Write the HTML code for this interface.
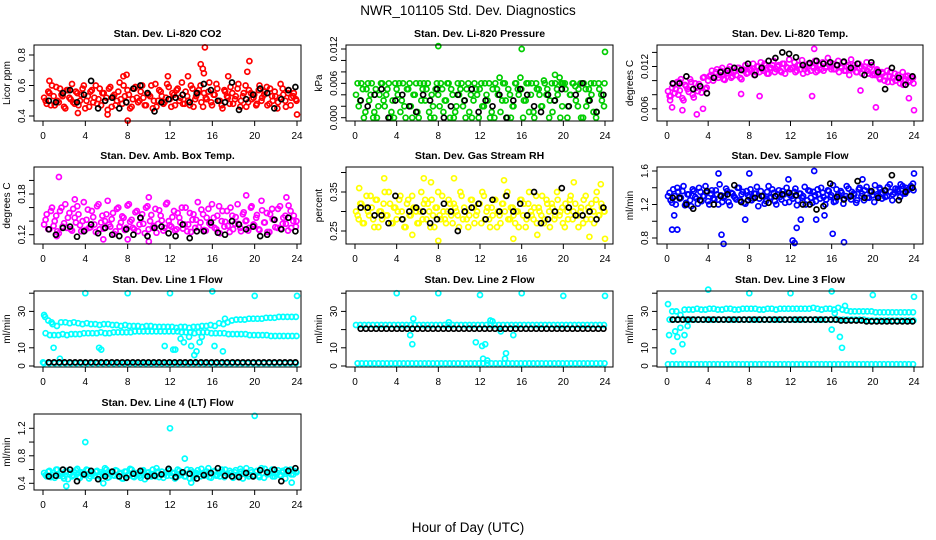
<!DOCTYPE html>
<html><head><meta charset="utf-8"><style>
html,body{margin:0;padding:0;background:#fff;width:936px;height:540px;overflow:hidden}
svg{display:block;font-family:"Liberation Sans",Arial,sans-serif}
</style></head><body>
<svg id="chart" width="936" height="540" viewBox="0 0 936 540" xmlns="http://www.w3.org/2000/svg">
<rect x="0" y="0" width="936" height="540" fill="#fff"/>
<text x="468" y="15" text-anchor="middle" font-size="13.5">NWR_101105  Std. Dev. Diagnostics</text>
<text x="468" y="532" text-anchor="middle" font-size="13.5">Hour of Day (UTC)</text>
</svg>
<script>
// ---------- data ----------
const hourTicks=[0,4,8,12,16,20,24];
const co2Red=[.52,.48,.55,.60,.47,.50,.58,.53,.45,.57,.51,.49,.56,.47,.54,.60,.50,.46,.57,.52,.48,.58,.55,.50,.44,.59,.53,.47,.56,.51,.60,.49,.54,.46,.58,.52,.50,.60,.47,.55,.53,.45,.61,.50,.56,.48,.52,.59,.46,.54,.57,.50,.62,.48,.53,.47,.58,.51,.55,.60,.46,.52,.56,.49,.54,.61,.50,.47,.57,.53,.48,.55,.51,.58,.46,.53,.60,.49,.55,.52,.47,.57,.50,.54,.59,.48,.53,.56,.45,.52,.58,.50,.55,.47,.53,.51];
const co2Red2=[.50,.56,.47,.53,.59,.49,.54,.46,.57,.52,.61,.48,.55,.50,.58,.45,.53,.56,.49,.60,.51,.47,.55,.52,.58,.46,.54,.50,.62,.48,.53,.57,.45,.51,.59,.49,.56,.52,.47,.54,.60,.50,.46,.57,.53,.49,.61,.51,.55,.47,.58,.52,.48,.56,.50,.60,.46,.53,.57,.49,.55,.51,.62,.47,.54,.58,.50,.45,.56,.52,.59,.48,.53,.61,.50,.55,.46,.57,.51,.54,.48,.60,.52,.56,.47,.58,.50,.53,.49,.61,.54,.46,.57,.52,.55,.50];
const co2Black=[.50,.49,.55,.57,.49,.54,.63,.45,.50,.52,.45,.49,.58,.60,.55,.43,.49,.51,.52,.54,.49,.55,.61,.57,.50,.49,.62,.44,.51,.54,.58,.55,.45,.51,.57,.59];
const co2OutHour=[15.3,14.9,15.1,15.2,19.5,19.3,11.8,7.6,7.9,8,0.6,3.3,6.1,24,13.7,17.5];
const co2OutVal=[.85,.74,.71,.68,.76,.69,.66,.66,.67,.37,.63,.42,.41,.41,.66,.66];
const co2Ticks=[0.4,0.5,0.6,0.7,0.8];
const co2Labels=["0.4","","0.6","","0.8"];

const presGreen=[.004,.002,.006,0,.005,.003,.006,.001,0,.004,.006,.002,.005,0,.003,.006,.004,.001,.006,0,.005,.002,.004,.006,0,.003,.006,.005,.001,.004,0,.006,.002,.005,.003,.006,0,.004,.001,.006,.005,.002,0,.006,.004,.003,.005,0,.006,.002,.004,.006,.001,0,.005,.007,.003,.006,0,.004,.002,.006,.005,.007,0,.003,.006,.004,.001,.006,.005,.002,.0065,.004,0,.006,.003,.005,.007,.002,.006,0,.004,.006,.0055,.002,.006,0,.005,.003,.006,.001,0,.006,.004,.002];
const presGreen2=[.006,.003,.005,.001,.006,.004,0,.005,.002,.006,.003,.004,.006,.001,0,.005,.006,.003,.002,.005,.006,0,.004,.001,.006,.005,.003,.006,0,.002,.005,.004,.006,.001,.003,.006,.005,0,.002,.004,.006,.003,.005,.001,0,.006,.004,.005,.002,.006,.003,0,.005,.006,.004,.001,.006,.003,.005,0,.002,.006,.004,.005,.003,.006,.001,.006,0,.005,.004,.002,.006,.005,.003,.001,.006,.004,0,.006,.005,.002,.004,.006,.003,.005,0,.006,.002,.005,.004,.006,.001,.005,.003,.006];
const presBlack=[.003,.002,.004,.005,0,.003,.004,.002,.001,.004,.003,.005,0,.002,.004,.003,.005,.001,.003,.002,.004,0,.003,.005,.004,.002,.001,.004,.003,.005,.002,.004,.006,.003,.001,.004];
const presOutHour=[8,16,24,19.2,19.8];
const presOutVal=[.0125,.012,.0115,.0075,.006];
const presTicks=[0,.002,.004,.006,.008,.010,.012];
const presLabels=["0.000","","","0.006","","","0.012"];

const tempMag=[.0085,.0078,.0095,.0088,.008,.0102,.0072,.0092,.0084,.0098,.0076,.009,.0095,.0083,.0105,.009,.0106,.0114,.0104,.0116,.0108,.0118,.0101,.0111,.012,.0106,.0114,.0118,.0104,.0116,.0122,.0111,.0116,.0124,.0112,.012,.0126,.0114,.0122,.011,.0118,.0128,.0116,.0122,.0112,.0124,.0119,.013,.0118,.0126,.0114,.0122,.0129,.0116,.0112,.0124,.012,.0128,.0114,.0122,.0126,.0118,.0132,.012,.0124,.0116,.0128,.012,.0126,.0114,.0122,.013,.0118,.0112,.0124,.012,.0116,.0126,.011,.0122,.011,.0116,.0104,.0112,.010,.0114,.0106,.0098,.011,.0104,.0096,.0112,.0102,.0107,.010,.0104];
const tempMag2=[.0078,.009,.0082,.0098,.0086,.0075,.0094,.0088,.0102,.008,.0096,.0085,.0092,.0104,.0088,.01,.0108,.01,.0112,.0104,.0114,.0102,.011,.0116,.0104,.0112,.0108,.0118,.0102,.0114,.011,.0116,.0114,.0108,.012,.0112,.0116,.0124,.011,.0118,.0122,.0112,.012,.0114,.0124,.011,.0118,.0116,.0118,.0112,.0122,.0116,.011,.012,.0124,.0114,.0118,.0112,.0122,.0116,.0114,.012,.0124,.0116,.0116,.0122,.0112,.0118,.0114,.012,.0108,.0116,.0122,.0112,.0118,.011,.012,.0114,.0118,.0108,.0108,.0114,.0102,.011,.0106,.0098,.0112,.0104,.01,.0108,.0102,.0094,.0106,.0098,.0104,.0096];
const tempBlack=[.0096,.0096,.0106,.0088,.0092,.0082,.0104,.0112,.0114,.0118,.0115,.0124,.0108,.0118,.0128,.0132,.0140,.0138,.0133,.0122,.0125,.0128,.0124,.0126,.0122,.0127,.0118,.0124,.0108,.0126,.0112,.0088,.0118,.0104,.0094,.0106];
const tempOutHour=[0.5,1.5,2.9,3.5,7.2,9,14.1,14.3,20.3,24,23.5,18.8,1.2,0.3];
const tempOutVal=[.0062,.0058,.0052,.006,.0081,.0078,.0078,.0145,.0062,.0058,.0075,.0086,.0098,.0072];
const tempTicks=[.006,.008,.010,.012,.014];
const tempLabels=["0.006","","","0.012",""];

const ambMag=[.135,.15,.128,.16,.14,.125,.155,.132,.165,.145,.128,.158,.138,.15,.125,.168,.142,.13,.155,.135,.162,.128,.148,.14,.17,.132,.152,.125,.16,.138,.145,.13,.165,.142,.128,.155,.135,.15,.122,.162,.14,.13,.158,.136,.148,.126,.165,.14,.132,.155,.128,.145,.16,.135,.125,.152,.142,.13,.168,.138,.15,.126,.158,.134,.145,.128,.162,.14,.132,.155,.124,.148,.136,.165,.13,.15,.14,.126,.16,.135,.145,.128,.17,.138,.152,.124,.158,.142,.13,.162,.136,.148,.126,.155,.14,.132];
const ambMag2=[.142,.128,.155,.133,.148,.122,.16,.137,.13,.152,.126,.145,.162,.134,.14,.127,.157,.131,.146,.124,.165,.138,.129,.15,.135,.143,.121,.158,.132,.147,.127,.163,.139,.13,.153,.125,.144,.136,.16,.128,.149,.133,.123,.156,.141,.13,.167,.134,.146,.126,.152,.138,.129,.16,.135,.124,.15,.142,.131,.157,.127,.145,.137,.165,.13,.148,.122,.155,.139,.133,.16,.128,.146,.136,.125,.153,.141,.13,.162,.134,.149,.127,.156,.138,.124,.15,.143,.131,.158,.129,.145,.136,.163,.13,.148,.14];
const ambBlack=[.128,.12,.13,.132,.117,.125,.135,.122,.13,.12,.118,.128,.12,.145,.118,.13,.132,.122,.118,.135,.115,.125,.125,.138,.123,.12,.14,.135,.128,.132,.118,.12,.142,.128,.145,.125];
const ambOutHour=[1.5,3,10,19.2,23,10,1.3,5.7,8];
const ambOutVal=[.205,.172,.175,.178,.175,.11,.118,.113,.113];
const ambTicks=[.12,.14,.16,.18,.20];
const ambLabels=["0.12","","","0.18",""];

const rhYellow=[.3,.28,.32,.27,.34,.29,.31,.26,.33,.3,.28,.35,.29,.32,.27,.31,.3,.34,.28,.26,.33,.29,.31,.3,.27,.35,.32,.28,.3,.33,.26,.31,.29,.34,.28,.3,.32,.27,.31,.29,.35,.28,.3,.26,.33,.31,.29,.32,.27,.34,.3,.28,.31,.33,.26,.29,.32,.3,.35,.28,.31,.27,.3,.33,.29,.26,.32,.3,.28,.34,.31,.29,.27,.33,.3,.32,.28,.35,.29,.31,.26,.3,.33,.28,.32,.29,.3,.27,.34,.31,.28,.3,.33,.29,.32,.3];
const rhYellow2=[.29,.32,.27,.31,.3,.34,.28,.33,.26,.3,.32,.29,.35,.27,.31,.28,.33,.3,.26,.32,.29,.34,.31,.27,.3,.28,.33,.32,.26,.29,.31,.35,.28,.3,.27,.33,.29,.32,.3,.26,.34,.31,.28,.29,.33,.27,.3,.32,.35,.28,.31,.26,.29,.33,.3,.27,.32,.34,.28,.31,.29,.3,.26,.33,.32,.28,.35,.29,.31,.27,.3,.34,.28,.32,.26,.31,.29,.33,.3,.27,.32,.28,.34,.3,.29,.26,.31,.33,.28,.3,.32,.27,.35,.29,.31,.3];
const rhBlack=[.31,.31,.29,.29,.27,.34,.28,.3,.31,.3,.27,.28,.32,.3,.25,.3,.31,.32,.28,.33,.3,.34,.3,.32,.29,.35,.27,.28,.3,.36,.31,.29,.29,.3,.28,.31];
const rhOutHour=[0.4,2.8,6.6,9.5,7.3,14.3,21,23.6,8,15.2,24,22.5,5.5,17.5];
const rhOutVal=[.36,.385,.385,.385,.375,.38,.375,.37,.225,.23,.23,.235,.24,.24];
const rhTicks=[.25,.30,.35,.40];
const rhLabels=["0.25","","0.35",""];

const flowBlue=[1.3,1.25,1.38,1.2,1.35,1.28,1.42,1.22,1.32,1.18,1.36,1.27,1.4,1.24,1.3,1.34,1.2,1.37,1.26,1.32,1.44,1.23,1.3,1.36,1.19,1.33,1.28,1.4,1.25,1.35,1.21,1.31,1.38,1.27,1.33,1.18,1.36,1.3,1.24,1.42,1.29,1.34,1.2,1.37,1.26,1.32,1.4,1.23,1.3,1.35,1.19,1.33,1.28,1.41,1.25,1.36,1.22,1.31,1.38,1.27,1.34,1.2,1.37,1.29,1.43,1.24,1.32,1.36,1.21,1.3,1.39,1.26,1.33,1.22,1.38,1.3,1.25,1.41,1.28,1.35,1.23,1.32,1.4,1.27,1.36,1.3,1.44,1.25,1.34,1.38,1.29,1.42,1.33,1.37,1.4,1.45];
const flowBlue2=[1.34,1.22,1.3,1.4,1.27,1.36,1.19,1.32,1.25,1.38,1.29,1.21,1.35,1.3,1.42,1.24,1.33,1.27,1.37,1.2,1.31,1.28,1.39,1.23,1.34,1.3,1.26,1.4,1.32,1.22,1.36,1.29,1.25,1.33,1.41,1.27,1.3,1.21,1.35,1.28,1.38,1.24,1.32,1.29,1.36,1.22,1.34,1.31,1.27,1.39,1.25,1.33,1.3,1.2,1.37,1.28,1.35,1.24,1.32,1.4,1.29,1.26,1.36,1.31,1.23,1.38,1.3,1.34,1.27,1.42,1.29,1.35,1.32,1.25,1.4,1.33,1.37,1.28,1.36,1.31,1.43,1.3,1.38,1.34,1.29,1.41,1.35,1.32,1.39,1.36,1.44,1.33,1.4,1.38,1.42,1.37];
const flowBlack=[1.28,1.28,1.2,1.15,1.25,1.36,1.2,1.3,1.32,1.43,1.23,1.25,1.28,1.3,1.22,1.3,1.32,1.34,1.31,1.2,1.2,1.14,1.18,1.45,1.29,1.26,1.3,1.48,1.28,1.36,1.28,1.37,1.55,1.25,1.35,1.4];
const flowOutHour=[0.5,1,5.5,5.3,12.2,12.4,12.6,14.3,16.1,17.2,7.6,13,14.5,15.3,0.7,5,8,14.3,24,19,11.8];
const flowOutVal=[.9,.9,.73,.84,.77,.74,.92,.7,.85,.75,1.02,1.02,1.02,1.07,1.07,1.57,1.57,1.6,1.57,1.5,1.5];
const flowTicks=[.8,1.0,1.2,1.4,1.6];
const flowLabels=["0.8","","1.2","","1.6"];

const line1Upper=[28,25,23,22,24,24,23.5,24,23.5,23,23.5,23,23,22.5,23,23,22.5,22.5,22,22.5,22,22,22,21.5,22,22,21.5,21.5,21.5,21.5,21.5,21,21.5,21.5,21,21.5,21.5,22,22,22.5,22,23.5,23,24,25,25.5,25.5,25.5,26,26,26,26,26.5,26.5,26.5,27,27,27,27,27];
const line1Lower=[18,17,17,17,17.5,17,17.5,17.5,17.5,18,18,18,18,18.5,18,18,18.5,18.5,18.5,18.5,18.5,19,19,19,19,19,19,19,19,19,19,19,18.5,18.5,18.5,18,18.5,18.5,18.5,18,18,18,18,17.5,17.5,17.5,17.5,17.5,17,17,17,17,17,16.5,16.5,16.5,16.5,16.5,16.5,16.5];
const line1Base=[1.5,1.5,1.5,1.5,1.5,1.5,1.5,1.5,1.5,1.5,1.5,1.5,1.5,1.5,1.5,1.5,1.5,1.5,1.5,1.5,1.5,1.5,1.5,1.5,1.5,1.5,1.5,1.5,1.5,1.5,1.5,1.5,1.5,1.5,1.5,1.5,1.5,1.5,1.5,1.5,1.5,1.5,1.5,1.5,1.5,1.5,1.5,1.5];
const line1Black=[2,2,2,2,2,2,2,2,2,2,2,2,2,2,2,2,2,2,2,2,2,2,2,2,2,2,2,2,2,2,2,2,2,2,2,2,2,2,2,2,2,2,2,2,2,2,2,2];
const line1OutHour=[4,8,12,16,20,24,0.2,0.8,1.0,1.6,5.3,5.5,11.5,12.3,12.5,13,13.3,13.8,14,14.3,14.5,14.8,15,16.2,17,17.2,0];
const line1OutVal=[40,40,40,41,38.5,38.5,27,24,10,4,10,9,11,9,9,15,13,16,11,6,8,13,16,11,8,26,2];
const lineTicks=[0,10,20,30,40];
const lineLabels=["0","10","","30",""];

const line2Upper=[22.5,22.5,22.5,22.5,22.5,22.5,22.5,22.5,22.5,22.5,22.5,22.5,22.5,22.5,22.5,22.5,22.5,22.5,22.5,22.5,22.5,22.5,22.5,22.5,22.5,22.5,22.5,22.5,22.5,22.5,22.5,22.5,22.5,22.5,22.5,22.5,22.5,22.5,22.5,22.5,22.5,22.5,22.5,22.5,22.5,22.5,22.5,22.5,22.5,22.5,22.5,22.5,22.5,22.5,22.5,22.5,22.5,22.5,22.5,22.5];
const line2Base=[1.5,1.5,1.5,1.5,1.5,1.5,1.5,1.5,1.5,1.5,1.5,1.5,1.5,1.5,1.5,1.5,1.5,1.5,1.5,1.5,1.5,1.5,1.5,1.5,1.5,1.5,1.5,1.5,1.5,1.5,1.5,1.5,1.5,1.5,1.5,1.5,1.5,1.5,1.5,1.5,1.5,1.5,1.5,1.5,1.5,1.5,1.5,1.5,1.5,1.5,1.5,1.5,1.5,1.5,1.5,1.5,1.5,1.5,1.5,1.5];
const line2Black=[20.5,20.5,20.5,20.5,20.5,20.5,20.5,20.5,20.5,20.5,20.5,20.5,20.5,20.5,20.5,20.5,20.5,20.5,20.5,20.5,20.5,20.5,20.5,20.5,20.5,20.5,20.5,20.5,20.5,20.5,20.5,20.5,20.5,20.5,20.5,20.5,20.5,20.5,20.5,20.5,20.5,20.5,20.5,20.5,20.5,20.5,20.5,20.5];
const line2OutHour=[4,8,12,16,20,24,5.3,5.5,5.6,11.6,12.2,12.5,12.3,12.7,13,13.2,14,14.4,14.5,15.2,9];
const line2OutVal=[40,40,39,40,38.5,38.5,17,12,26,13,11,12,4,3,25,24.5,19,4,7,17,24];

const line3Upper=[34,30,30,28,31,31,31,31.5,31,31,31.5,31.5,31,31,31.5,31.5,31,31,31.5,31.5,31.5,31.5,31,31,31.5,31.5,31,31.5,31.5,31.5,31.5,31.5,31.5,31.5,31.5,32,31.5,31,31.5,31.5,31,32,31,30.5,30,30,30,30,30,30,29.5,29.5,29.5,29.5,29.5,29.5,29.5,29.5,29.5,29.5];
const line3Mid=[25.5,25.5,25.5,25.5,25.5,25.5,25.5,25.5,25.5,25.5,25.5,25.5,25.5,25.5,25.5,25.5,25.5,25.5,25.5,25.5,25.5,25.5,25.5,25.5,25.5,25.5,25.5,25.5,25.5,25.5,25.5,25.5,25.5,25.5,25.5,25.5,25.5,25.5,25.5,25.5,25.5,25.5,25.5,25.5,25.5,25.5,25.5,25.5,25,25,25,25,25,25,25,25,25,25,25,25];
const line3Base=[1,1,1,1,1,1,1,1,1,1,1,1,1,1,1,1,1,1,1,1,1,1,1,1,1,1,1,1,1,1,1,1,1,1,1,1,1,1,1,1,1,1,1,1,1,1,1,1,1,1,1,1,1,1,1,1,1,1,1,1];
const line3Black=[25.5,25.5,25.5,25.5,25.5,25.5,25.5,25.5,25.5,25.5,25.5,25.5,25.5,25.5,25.5,25.5,25.5,25.5,25.5,25.5,25.5,25.5,25.5,25.5,25.5,25.5,25.5,25.5,25.5,25.5,25.5,25.5,25.5,25,25,25,25,25,24.5,24.5,24.5,24.5,24.5,24.5,24.5,24.5,24.5,24.5];
const line3OutHour=[4,8,12,16,20,24,0.2,0.6,0.8,1,1.3,1.5,1.7,2,16,16.8,17,17.3,16.3];
const line3OutVal=[42,40,40,41,39,38,17,8,19,16,21,12,17,22,20,16,10,33,29];

const line4Cyan=[.55,.5,.58,.52,.48,.6,.54,.5,.57,.46,.55,.52,.59,.49,.56,.53,.6,.47,.55,.51,.58,.5,.54,.62,.48,.56,.52,.59,.5,.55,.47,.57,.53,.6,.49,.54,.51,.58,.46,.55,.52,.6,.5,.57,.53,.48,.56,.61,.51,.55,.49,.58,.54,.5,.6,.47,.56,.52,.59,.5,.55,.53,.62,.48,.57,.51,.55,.6,.49,.54,.58,.5,.56,.52,.61,.47,.55,.53,.59,.5,.57,.51,.62,.48,.56,.54,.6,.5,.55,.52,.58,.47,.56,.6,.53,.57];
const line4Cyan2=[.52,.57,.49,.55,.6,.51,.54,.47,.58,.53,.5,.56,.61,.48,.55,.52,.59,.5,.54,.57,.46,.56,.53,.6,.49,.55,.51,.58,.54,.47,.57,.52,.61,.5,.55,.53,.48,.59,.52,.56,.5,.54,.62,.49,.57,.53,.51,.58,.55,.47,.6,.52,.56,.5,.54,.59,.48,.55,.53,.61,.51,.57,.49,.54,.58,.52,.5,.56,.6,.53,.55,.48,.59,.51,.57,.54,.62,.5,.56,.52,.58,.49,.55,.61,.53,.57,.5,.54,.59,.52,.56,.6,.55,.53,.58,.56];
const line4Black=[.5,.51,.6,.6,.43,.53,.58,.46,.5,.57,.5,.48,.54,.58,.5,.51,.53,.61,.49,.56,.54,.47,.52,.55,.62,.51,.5,.49,.55,.5,.59,.56,.6,.43,.58,.62];
const line4OutHour=[4,12,20,13.4,5.7,23.5,14,2.2];
const line4OutVal=[1.0,1.2,1.38,.76,.4,.41,.41,.36];
const line4Ticks=[.4,.6,.8,1.0,1.2];
const line4Labels=["0.4","","0.8","","1.2"];

// ---------- layout ----------
const colX0=[43,355,667], colX24=[297,605,914], boxL=[34,346,657], boxR=[301,613,923];
const rowTop=[45,167,291,414], rowBot=[121,244,367,490];
const CYAN='#00ffff';
const panels=[
 {key:'co2',title:'Stan. Dev. Li-820 CO2',ylab:'Licor ppm',c:0,r:0,a:[0.4,116],b:[0.8,55],ticks:co2Ticks,labels:co2Labels,
  series:[[co2Red,'#ff0000'],[co2Red2,'#ff0000']],out:[co2OutHour,co2OutVal,'#ff0000'],black:co2Black},
 {key:'pressure',title:'Stan. Dev. Li-820 Pressure',ylab:'kPa',c:1,r:0,a:[0,117.7],b:[0.012,49],ticks:presTicks,labels:presLabels,
  series:[[presGreen,'#00cd00'],[presGreen2,'#00cd00']],out:[presOutHour,presOutVal,'#00cd00'],black:presBlack},
 {key:'temp',title:'Stan. Dev. Li-820 Temp.',ylab:'degrees C',c:2,r:0,a:[0.006,108.8],b:[0.012,66.5],ticks:tempTicks,labels:tempLabels,
  series:[[tempMag,'#ff00ff'],[tempMag2,'#ff00ff']],out:[tempOutHour,tempOutVal,'#ff00ff'],black:tempBlack},
 {key:'ambbox',title:'Stan. Dev. Amb. Box Temp.',ylab:'degrees C',c:0,r:1,a:[0.12,234.7],b:[0.18,194],ticks:ambTicks,labels:ambLabels,
  series:[[ambMag,'#ff00ff'],[ambMag2,'#ff00ff']],out:[ambOutHour,ambOutVal,'#ff00ff'],black:ambBlack},
 {key:'rh',title:'Stan. Dev. Gas Stream RH',ylab:'percent',c:1,r:1,a:[0.25,231],b:[0.35,192],ticks:rhTicks,labels:rhLabels,
  series:[[rhYellow,'#ffff00'],[rhYellow2,'#ffff00']],out:[rhOutHour,rhOutVal,'#ffff00'],black:rhBlack},
 {key:'sampleflow',title:'Stan. Dev. Sample Flow',ylab:'ml/min',c:2,r:1,a:[0.8,238],b:[1.6,171],ticks:flowTicks,labels:flowLabels,
  series:[[flowBlue,'#0000ff'],[flowBlue2,'#0000ff']],out:[flowOutHour,flowOutVal,'#0000ff'],black:flowBlack},
 {key:'line1',title:'Stan. Dev. Line 1 Flow',ylab:'ml/min',c:0,r:2,a:[0,366],b:[30,311.4],ticks:lineTicks,labels:lineLabels,
  series:[[line1Upper,CYAN],[line1Lower,CYAN],[line1Base,CYAN]],out:[line1OutHour,line1OutVal,CYAN],black:line1Black},
 {key:'line2',title:'Stan. Dev. Line 2 Flow',ylab:'ml/min',c:1,r:2,a:[0,366],b:[30,311.4],ticks:lineTicks,labels:lineLabels,
  series:[[line2Upper,CYAN],[line2Base,CYAN]],out:[line2OutHour,line2OutVal,CYAN],black:line2Black},
 {key:'line3',title:'Stan. Dev. Line 3 Flow',ylab:'ml/min',c:2,r:2,a:[0,366],b:[30,311.4],ticks:lineTicks,labels:lineLabels,
  series:[[line3Upper,CYAN],[line3Mid,CYAN],[line3Base,CYAN]],out:[line3OutHour,line3OutVal,CYAN],black:line3Black},
 {key:'line4',title:'Stan. Dev. Line 4 (LT) Flow',ylab:'ml/min',c:0,r:3,a:[0.4,483.3],b:[1.2,428.3],ticks:line4Ticks,labels:line4Labels,
  series:[[line4Cyan,CYAN],[line4Cyan2,CYAN]],out:[line4OutHour,line4OutVal,CYAN],black:line4Black}
];

const NS='http://www.w3.org/2000/svg';
const svg=document.getElementById('chart');
function mk(tag,attrs,parent){const e=document.createElementNS(NS,tag);for(const k in attrs)e.setAttribute(k,attrs[k]);(parent||svg).appendChild(e);return e;}

panels.forEach(p=>{
  const g=mk('g',{});
  
  
  const L=boxL[p.c],R=boxR[p.c],T=rowTop[p.r],B=rowBot[p.r];
  const xs=h=>colX0[p.c]+(colX24[p.c]-colX0[p.c])*h/24;
  const ys=v=>p.a[1]+(v-p.a[0])*(p.b[1]-p.a[1])/(p.b[0]-p.a[0]);
  const cx=(L+R)/2;
  const t=mk('text',{x:cx,y:T-8,'text-anchor':'middle','font-size':'10.5','font-weight':'bold'},g);
  t.textContent=p.title;
  
  
  const pts=mk('g',{fill:'none','stroke-width':'1.7'},g);
  
  
  const ring=(h,v,col)=>{
    const y=ys(v); if(y<T-2||y>B+2) return;
    const c=mk('circle',{cx:xs(h).toFixed(1),cy:y.toFixed(1),r:'2.5',stroke:col},pts);
    
    
  };
  p.series.forEach(([vals,col],si)=>{
    const n=vals.length;
    const s0=si%2===1?0.25:0.1, s1=si%2===1?23.95:23.9;
    vals.forEach((v,i)=>ring(s0+(s1-s0)*i/(n-1),v,col));
  });
  p.out[0].forEach((h,i)=>ring(h,p.out[1][i],p.out[2]));
  const nb=p.black.length;
  p.black.forEach((v,i)=>ring(0.55+23.3*i/(nb-1),v,'#000'));
  const box=mk('rect',{x:L,y:T,width:R-L,height:B-T,fill:'none',stroke:'#000','stroke-width':'1'},g);
  
  
  hourTicks.forEach(h=>{
    const x=xs(h);
    mk('line',{x1:x,x2:x,y1:B,y2:B+5,stroke:'#000'},g);
    const tl=mk('text',{x:x,y:B+18,'text-anchor':'middle','font-size':'10'},g);
    tl.textContent=String(h);
    
    
  });
  p.ticks.forEach((v,i)=>{
    const y=ys(v);
    mk('line',{x1:L,x2:L-5,y1:y,y2:y,stroke:'#000'},g);
    if(p.labels[i]){
      const tl=mk('text',{x:L-9,y:y,'text-anchor':'middle','font-size':'10',transform:`rotate(-90 ${L-9} ${y})`},g);
      tl.textContent=p.labels[i];
      
      
    }
  });
  const my=(T+B)/2;
  const yl=mk('text',{x:L-24,y:my,'text-anchor':'middle','font-size':'10',transform:`rotate(-90 ${L-24} ${my})`},g);
  yl.textContent=p.ylab;
  
  
});
</script>
</body></html>
